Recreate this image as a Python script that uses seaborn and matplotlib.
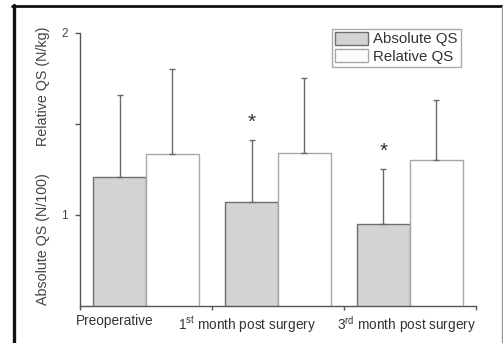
import matplotlib
matplotlib.use("Agg")
import matplotlib.pyplot as plt
from matplotlib.lines import Line2D
from matplotlib.patches import Patch
import seaborn as sns
import pandas as pd

# Quadriceps strength before and after surgery
timepoints = ["Preoperative", "1st month post surgery", "3rd month post surgery"]
tick_labels = ["Preoperative",
               "1$^{\\mathrm{st}}$ month post surgery",
               "3$^{\\mathrm{rd}}$ month post surgery"]
series = ["Absolute QS", "Relative QS"]
absolute_mean = [1.21, 1.07, 0.95]
absolute_sd = [0.45, 0.34, 0.30]
relative_mean = [1.333, 1.342, 1.30]
relative_sd = [0.47, 0.41, 0.33]
significant = [False, True, True]

sns.set_theme(style="white")
plt.rcParams["font.family"] = ["Liberation Sans", "DejaVu Sans"]
plt.rcParams["mathtext.fontset"] = "custom"
plt.rcParams["mathtext.rm"] = "Liberation Sans"
plt.rcParams["mathtext.it"] = "Liberation Sans:italic"

df = pd.DataFrame({
    "time": timepoints * 2,
    "series": [series[0]] * 3 + [series[1]] * 3,
    "value": absolute_mean + relative_mean,
})

fig = plt.figure(figsize=(5.03, 3.43), dpi=100)
ax = fig.add_axes([0.159, 0.1079, 0.787, 0.7968])

fills = {"Absolute QS": "#d3d3d3", "Relative QS": "white"}
edges = {"Absolute QS": "#6e6e6e", "Relative QS": "#a8a8a8"}
sns.barplot(data=df, x="time", y="value", hue="series", order=timepoints,
            hue_order=series, palette=fills, errorbar=None, width=0.8,
            gap=0, linewidth=1.0, edgecolor="#777777", legend=False, ax=ax)

err_color = "#6a6a6a"
for container, name, means, sds in zip(ax.containers, series,
                                       [absolute_mean, relative_mean],
                                       [absolute_sd, relative_sd]):
    xs = []
    for bar in container:
        bar.set_edgecolor(edges[name])
        xs.append(bar.get_x() + bar.get_width() / 2)
    ax.errorbar(xs, means, yerr=[[0] * len(sds), sds], fmt="none",
                ecolor=err_color, elinewidth=1.0, capsize=2.2,
                capthick=1.0, zorder=1)
    if name == "Absolute QS":
        for x, m, s, sig in zip(xs, means, sds, significant):
            if sig:
                ax.text(x, m + s + 0.045, "*", ha="center", va="bottom",
                        fontsize=15, color="#333333")

ax.set_xlim(-0.5, 2.5)
ax.set_ylim(0.5, 2.0)
ax.set_xlabel("")
ax.set_ylabel("")

# category labels sit between the boundary ticks
ax.set_xticks([-0.235, 0.765, 1.977])
ax.set_xticklabels(tick_labels, fontsize=9.8, color="#333333")
ax.set_xticks([-0.5, 0.5, 1.5, 2.5], minor=True)
ax.tick_params(axis="x", which="major", length=0, pad=6)
ax.tick_params(axis="x", which="minor", bottom=True, length=3,
               width=1, color="#555555", direction="out")

ax.set_yticks([1, 2])
ax.set_yticklabels(["1", "2"], fontsize=8.5, color="#444444")
ax.set_yticks([1.5], minor=True)
ax.tick_params(axis="y", which="both", left=True, length=3.5, width=1,
               color="#555555", direction="out", pad=5)

for side in ["top", "right"]:
    ax.spines[side].set_visible(False)
for side in ["left", "bottom"]:
    ax.spines[side].set_color("#555555")
    ax.spines[side].set_linewidth(1.0)

ytr = ax.get_yaxis_transform()
ax.text(-0.093, 0.868, "Absolute QS (N/100)", rotation=90, ha="center",
        va="center", fontsize=10.3, color="#444444", transform=ytr)
ax.text(-0.093, 1.708, "Relative QS (N/kg)", rotation=90, ha="center",
        va="center", fontsize=10.3, color="#444444", transform=ytr)

handles = [Patch(facecolor=fills[s], edgecolor=edges[s], linewidth=1.0)
           for s in series]
leg = ax.legend(handles, series, loc="upper right",
                bbox_to_anchor=(0.962, 1.015), fontsize=10.8,
                frameon=True, fancybox=False, framealpha=1,
                edgecolor="#aaaaaa", handlelength=2.2, handleheight=1.0,
                handletextpad=0.35, borderpad=0.2, labelspacing=0.15,
                borderaxespad=0)
leg.get_frame().set_linewidth(1.0)
for t in leg.get_texts():
    t.set_color("#333333")

# page frame around the figure
W, H = 503, 343
fig.add_artist(Line2D([13.5 / W, 13.5 / W], [0, 1 - 5 / H],
                      transform=fig.transFigure, color="#111111", lw=2.4))
fig.add_artist(Line2D([12.3 / W, 502 / W], [1 - 6 / H, 1 - 6 / H],
                      transform=fig.transFigure, color="#111111", lw=2.0))
fig.add_artist(Line2D([502 / W, 502 / W], [0, 1 - 6 / H],
                      transform=fig.transFigure, color="#999999", lw=1.0))

fig.savefig("out.png", dpi=100)
